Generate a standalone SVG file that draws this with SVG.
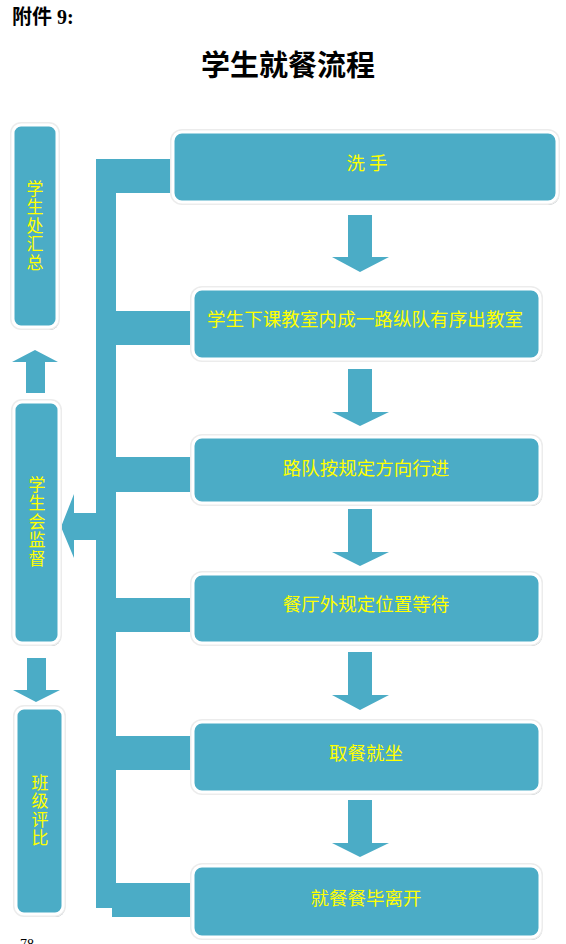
<svg xmlns="http://www.w3.org/2000/svg" width="566" height="944" viewBox="0 0 566 944">
<style>
.bg{fill:#ffffff}
.sh{fill:#97a7ad}
.ring{fill:#ececec}
.box{fill:#4BACC6;stroke:#ffffff;stroke-width:3}
.conn{fill:#4BACC6}
.lbl{font-family:"Noto Sans CJK SC","Noto Sans",sans-serif;font-size:18.5px;fill:#FFFF00;text-anchor:middle;dominant-baseline:central}
.vl{font-family:"Noto Sans CJK SC","Noto Sans",sans-serif;font-size:17px;fill:#FFFF00;text-anchor:middle;writing-mode:vertical-rl;letter-spacing:1.5px}
.hdr{font-family:"Liberation Serif","Noto Sans CJK SC",serif;font-weight:bold;fill:#000}
</style>
<rect class="bg" x="0" y="0" width="566" height="944"/>
<text class="hdr" x="12" y="24" font-size="20">附件 9:</text>
<text class="hdr" x="288" y="76" font-size="29" text-anchor="middle">学生就餐流程</text>
<text x="20" y="949" font-family="Liberation Serif,serif" font-size="14" fill="#000">78</text>

<g id="connectors">
  <rect class="conn" x="96" y="159" width="84" height="34"/>
  <rect class="conn" x="96" y="159" width="20" height="749"/>
  <rect class="conn" x="112" y="311" width="88" height="34"/>
  <rect class="conn" x="112" y="457" width="88" height="35"/>
  <rect class="conn" x="112" y="598" width="88" height="34"/>
  <rect class="conn" x="112" y="736" width="88" height="34"/>
  <rect class="conn" x="112" y="883" width="88" height="34"/>
  <polygon class="conn" points="61,527 74,494 74,513 97,513 97,540 74,540 74,558"/>
  <polygon class="conn" points="35,350 58,362 45,362 45,393 26,393 26,362 12,362"/>
  <polygon class="conn" points="27,658 46,658 46,690 60,690 36,702 13,690 27,690"/>
  <polygon class="conn" points="348,215 372,215 372,257 389,257 360,272 332,257 348,257"/>
  <polygon class="conn" points="348,369 372,369 372,412 389,412 360,426 332,412 348,412"/>
  <polygon class="conn" points="348,509 372,509 372,552 389,552 360,566 332,552 348,552"/>
  <polygon class="conn" points="348,652 372,652 372,695 389,695 360,710 332,695 348,695"/>
  <polygon class="conn" points="348,800 372,800 372,843 389,843 360,857 332,843 348,843"/>
</g>

<g id="n1">
  <rect class="sh" x="175" y="135" width="384" height="70" rx="10"/>
  <rect class="ring" x="170" y="129" width="390" height="76" rx="12"/>
  <rect class="box" x="173" y="132" width="384" height="70" rx="9"/>
  <text class="lbl" x="367" y="162">洗 手</text>
</g>
<g id="n2">
  <rect class="sh" x="195" y="292" width="347" height="70" rx="10"/>
  <rect class="ring" x="190" y="286" width="353" height="76" rx="12"/>
  <rect class="box" x="193" y="289" width="347" height="70" rx="9"/>
  <text class="lbl" x="365" y="318" textLength="316" lengthAdjust="spacing">学生下课教室内成一路纵队有序出教室</text>
</g>
<g id="n3">
  <rect class="sh" x="195" y="440" width="347" height="66" rx="10"/>
  <rect class="ring" x="190" y="434" width="353" height="72" rx="12"/>
  <rect class="box" x="193" y="437" width="347" height="66" rx="9"/>
  <text class="lbl" x="366" y="467">路队按规定方向行进</text>
</g>
<g id="n4">
  <rect class="sh" x="195" y="577" width="347" height="69" rx="10"/>
  <rect class="ring" x="190" y="571" width="353" height="75" rx="12"/>
  <rect class="box" x="193" y="574" width="347" height="69" rx="9"/>
  <text class="lbl" x="366" y="603">餐厅外规定位置等待</text>
</g>
<g id="n5">
  <rect class="sh" x="195" y="725" width="347" height="70" rx="10"/>
  <rect class="ring" x="190" y="719" width="353" height="76" rx="12"/>
  <rect class="box" x="193" y="722" width="347" height="70" rx="9"/>
  <text class="lbl" x="366" y="752">取餐就坐</text>
</g>
<g id="n6">
  <rect class="sh" x="195" y="869" width="347" height="71" rx="10"/>
  <rect class="ring" x="190" y="863" width="353" height="77" rx="12"/>
  <rect class="box" x="193" y="866" width="347" height="71" rx="9"/>
  <text class="lbl" x="366" y="897">就餐餐毕离开</text>
</g>

<g id="l1">
  <rect class="sh" x="15" y="128" width="44" height="202" rx="9"/>
  <rect class="ring" x="10" y="122" width="50" height="208" rx="11"/>
  <rect class="box" x="13" y="125" width="44" height="202" rx="8"/>
  <text class="vl" x="35" y="226">学生处汇总</text>
</g>
<g id="l2">
  <rect class="sh" x="16" y="405" width="45" height="241" rx="9"/>
  <rect class="ring" x="11" y="399" width="51" height="247" rx="11"/>
  <rect class="box" x="14" y="402" width="45" height="241" rx="8"/>
  <text class="vl" x="37" y="522">学生会监督</text>
</g>
<g id="l3">
  <rect class="sh" x="18" y="711" width="47" height="206" rx="9"/>
  <rect class="ring" x="13" y="705" width="53" height="212" rx="11"/>
  <rect class="box" x="16" y="708" width="47" height="206" rx="8"/>
  <text class="vl" x="40" y="811">班级评比</text>
</g>
</svg>
